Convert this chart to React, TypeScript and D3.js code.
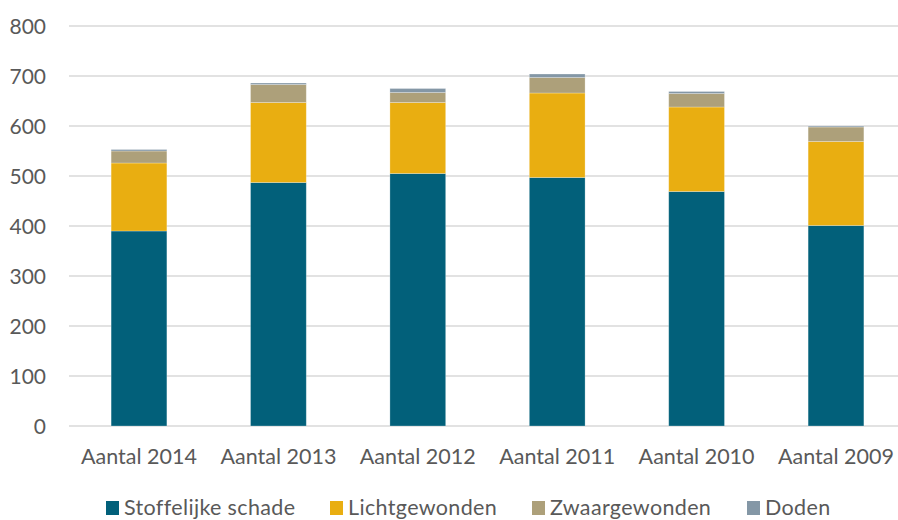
import React from "react";
import * as d3 from "d3";

const categories = ["Aantal 2014", "Aantal 2013", "Aantal 2012", "Aantal 2011", "Aantal 2010", "Aantal 2009"];
const seriesNames = ["Stoffelijke schade", "Lichtgewonden", "Zwaargewonden", "Doden"];
const stoffelijke = [390, 487, 505, 497, 469, 401];
const licht = [136, 160, 142, 169, 169, 168];
const zwaar = [24, 36, 20, 31, 27, 29];
const doden = [3, 3, 8, 7, 4, 2];
const colors = ["#02607A", "#E9AE11", "#ADA07A", "#8497A6"];
const yTicks = [0, 100, 200, 300, 400, 500, 600, 700, 800];
const legendX = [106, 330, 532, 747];

const W = 898;
const H = 520;
const FONT = "Lato, 'Open Sans', sans-serif";

export default function App() {
  const rows = categories.map((c, i) => ({
    cat: c,
    s0: stoffelijke[i],
    s1: licht[i],
    s2: zwaar[i],
    s3: doden[i],
  }));
  const stack = d3.stack<any>().keys(["s0", "s1", "s2", "s3"])(rows);
  const x = d3.scaleBand<string>().domain(categories).range([69.3, 905.7]).paddingInner(0.6).paddingOuter(0.3);
  const y = d3.scaleLinear().domain([0, 800]).range([426, 26]);

  return (
    <div style={{ position: "fixed", left: 0, top: 0 }}>
      <svg width={W} height={H} style={{ display: "block", background: "#fff" }}>
        {yTicks.map((t) => (
          <g key={t}>
            <line x1={69} x2={W} y1={y(t)} y2={y(t)} stroke="#D9D9D9" strokeWidth={1.5} />
            <text x={46} y={y(t)} dy="0.36em" textAnchor="end" fontFamily={FONT} fontSize={21} fill="#595959">
              {t}
            </text>
          </g>
        ))}
        {stack.map((layer, li) => (
          <g key={li} fill={colors[li]}>
            {layer.map((d, i) => (
              <rect
                key={i}
                x={x(categories[i])}
                width={x.bandwidth()}
                y={y(d[1])}
                height={Math.max(0, y(d[0]) - y(d[1]))}
                stroke="rgba(255,255,255,0.35)"
                strokeWidth={0.75}
              />
            ))}
          </g>
        ))}
        {categories.map((c) => (
          <text
            key={c}
            x={(x(c) as number) + x.bandwidth() / 2}
            y={464}
            textAnchor="middle"
            fontFamily={FONT}
            fontSize={21.5}
            fill="#595959"
          >
            {c}
          </text>
        ))}
        {seriesNames.map((n, i) => (
          <g key={n}>
            <rect x={legendX[i]} y={501} width={13} height={14} fill={colors[i]} />
            <text x={legendX[i] + 18} y={515} fontFamily={FONT} fontSize={21.5} letterSpacing={0.35} fill="#595959">
              {n}
            </text>
          </g>
        ))}
      </svg>
    </div>
  );
}
